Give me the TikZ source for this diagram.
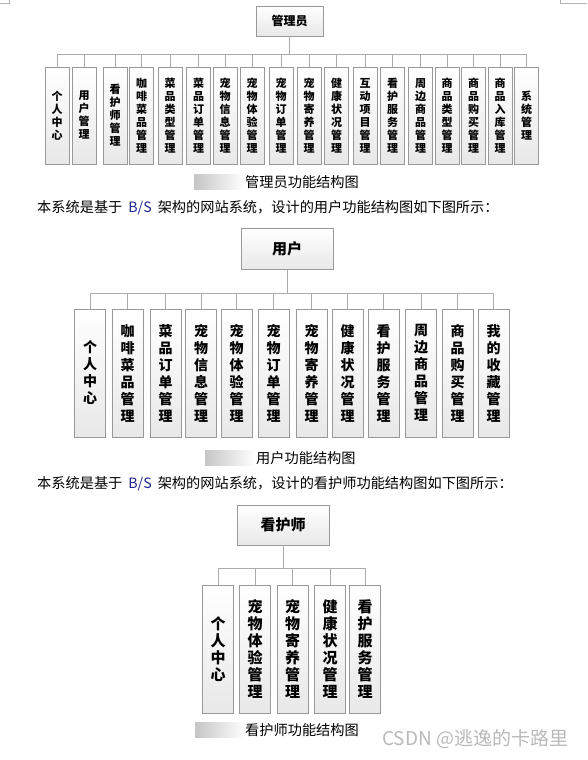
\documentclass[tikz,border=0pt]{standalone}
\usepackage{fontspec}
\setmainfont{Noto Sans CJK SC}
\usetikzlibrary{shadows, positioning}
\definecolor{bsblue}{RGB}{30,40,140}

\begin{document}
\begin{tikzpicture}[
    x=1pt, y=-1pt,
    func/.style={draw=gray!80, line width=0.8pt, top color=white, bottom color=gray!18, inner sep=0pt, align=center,
        drop shadow={shadow xshift=0.8pt, shadow yshift=-0.8pt, fill=gray!45, opacity=1}},
    head/.style={func, font=\fontsize{15}{17}\selectfont\bfseries},
    admbox/.style={func, minimum width=24pt, minimum height=97pt, font=\fontsize{11}{13}\selectfont\bfseries},
    usrbox/.style={func, minimum width=31pt, minimum height=128pt, font=\fontsize{14}{17}\selectfont\bfseries},
    nrsbox/.style={func, minimum width=31pt, minimum height=128pt, font=\fontsize{15}{17}\selectfont\bfseries},
    link/.style={draw=gray!65, line width=0.9pt},
    txt/.style={anchor=west, inner sep=0pt, font=\fontsize{14.2}{16}\selectfont},
    blur/.style={left color=gray!45, right color=white, inner sep=0pt, minimum height=15pt}
]
    \useasboundingbox (0,0) rectangle (587,760);

    % Page corner marks
    \draw[gray!60, line width=0.6pt] (0,3) -- (9,3) -- (9,0);
    \draw[gray!60, line width=0.6pt] (560,0) -- (560,3) -- (587,3);

    % Admin chart
    \node (adm) [head, minimum width=67pt, minimum height=30pt, font=\fontsize{12}{14}\selectfont\bfseries] at (289.5,21) {管理员};
    \coordinate (abar) at (289.5,54);
    \node (a1)  [admbox] at (57,115.5)    {个\\人\\中\\心};
    \node (a2)  [admbox] at (84,115.5)    {用\\户\\管\\理};
    \node (a3)  [admbox] at (115,115.5)   {看\\护\\师\\管\\理};
    \node (a4)  [admbox] at (141.5,115.5) {咖\\啡\\菜\\品\\管\\理};
    \node (a5)  [admbox] at (170,115.5)   {菜\\品\\类\\型\\管\\理};
    \node (a6)  [admbox] at (198.5,115.5) {菜\\品\\订\\单\\管\\理};
    \node (a7)  [admbox] at (225,115.5)   {宠\\物\\信\\息\\管\\理};
    \node (a8)  [admbox] at (252,115.5)   {宠\\物\\体\\验\\管\\理};
    \node (a9)  [admbox] at (281,115.5)   {宠\\物\\订\\单\\管\\理};
    \node (a10) [admbox] at (309,115.5)   {宠\\物\\寄\\养\\管\\理};
    \node (a11) [admbox] at (336.5,115.5) {健\\康\\状\\况\\管\\理};
    \node (a12) [admbox] at (365,115.5)   {互\\动\\项\\目\\管\\理};
    \node (a13) [admbox] at (392.5,115.5) {看\\护\\服\\务\\管\\理};
    \node (a14) [admbox] at (420.5,115.5) {周\\边\\商\\品\\管\\理};
    \node (a15) [admbox] at (447,115.5)   {商\\品\\类\\型\\管\\理};
    \node (a16) [admbox] at (473.5,115.5) {商\\品\\购\\买\\管\\理};
    \node (a17) [admbox] at (500,115.5)   {商\\品\\入\\库\\管\\理};
    \node (a18) [admbox] at (526.5,115.5) {系\\统\\管\\理};

    \draw [link] (adm) -- (abar);
    \draw [link] (abar) -| (a1);
    \draw [link] (abar) -| (a2);
    \draw [link] (abar) -| (a3);
    \draw [link] (abar) -| (a4);
    \draw [link] (abar) -| (a5);
    \draw [link] (abar) -| (a6);
    \draw [link] (abar) -| (a7);
    \draw [link] (abar) -| (a8);
    \draw [link] (abar) -| (a9);
    \draw [link] (abar) -| (a10);
    \draw [link] (abar) -| (a11);
    \draw [link] (abar) -| (a12);
    \draw [link] (abar) -| (a13);
    \draw [link] (abar) -| (a14);
    \draw [link] (abar) -| (a15);
    \draw [link] (abar) -| (a16);
    \draw [link] (abar) -| (a17);
    \draw [link] (abar) -| (a18);

    \node (blur1) [blur, minimum width=50pt] at (219,182) {};
    \node (cap1) [txt] at (245,182) {管理员功能结构图};
    \node (intro1) [txt] at (37,208) {本系统是基于\hspace{6pt}{\color{bsblue}B/S}\hspace{6pt}架构的网站系统，设计的用户功能结构图如下图所示：};

    % User chart
    \node (usr) [head, minimum width=92pt, minimum height=41pt] at (287,249) {用户};
    \coordinate (ubar) at (287,293);
    \node (u1)  [usrbox] at (90,373)    {个\\人\\中\\心};
    \node (u2)  [usrbox] at (127.5,373) {咖\\啡\\菜\\品\\管\\理};
    \node (u3)  [usrbox] at (165.5,373) {菜\\品\\订\\单\\管\\理};
    \node (u4)  [usrbox] at (201,373)   {宠\\物\\信\\息\\管\\理};
    \node (u5)  [usrbox] at (236.5,373) {宠\\物\\体\\验\\管\\理};
    \node (u6)  [usrbox] at (273.5,373) {宠\\物\\订\\单\\管\\理};
    \node (u7)  [usrbox] at (311.5,373) {宠\\物\\寄\\养\\管\\理};
    \node (u8)  [usrbox] at (347.5,373) {健\\康\\状\\况\\管\\理};
    \node (u9)  [usrbox] at (383.5,373) {看\\护\\服\\务\\管\\理};
    \node (u10) [usrbox] at (421,373)   {周\\边\\商\\品\\管\\理};
    \node (u11) [usrbox] at (457.5,373) {商\\品\\购\\买\\管\\理};
    \node (u12) [usrbox] at (493.5,373) {我\\的\\收\\藏\\管\\理};

    \draw [link] (usr) -- (ubar);
    \draw [link] (ubar) -| (u1);
    \draw [link] (ubar) -| (u2);
    \draw [link] (ubar) -| (u3);
    \draw [link] (ubar) -| (u4);
    \draw [link] (ubar) -| (u5);
    \draw [link] (ubar) -| (u6);
    \draw [link] (ubar) -| (u7);
    \draw [link] (ubar) -| (u8);
    \draw [link] (ubar) -| (u9);
    \draw [link] (ubar) -| (u10);
    \draw [link] (ubar) -| (u11);
    \draw [link] (ubar) -| (u12);

    \node (blur2) [blur, minimum width=50pt] at (230,458) {};
    \node (cap2) [txt] at (256,458) {用户功能结构图};
    \node (intro2) [txt] at (37,484) {本系统是基于\hspace{6pt}{\color{bsblue}B/S}\hspace{6pt}架构的网站系统，设计的看护师功能结构图如下图所示：};

    % Nurse chart
    \node (nrs) [head, minimum width=92pt, minimum height=40pt] at (283,525) {看护师};
    \coordinate (nbar) at (283,568);
    \node (n1) [nrsbox] at (218,649)   {个\\人\\中\\心};
    \node (n2) [nrsbox] at (255,649)   {宠\\物\\体\\验\\管\\理};
    \node (n3) [nrsbox] at (292.5,649) {宠\\物\\寄\\养\\管\\理};
    \node (n4) [nrsbox] at (330,649)   {健\\康\\状\\况\\管\\理};
    \node (n5) [nrsbox] at (365,649)   {看\\护\\服\\务\\管\\理};

    \draw [link] (nrs) -- (nbar);
    \draw [link] (nbar) -| (n1);
    \draw [link] (nbar) -| (n2);
    \draw [link] (nbar) -| (n3);
    \draw [link] (nbar) -| (n4);
    \draw [link] (nbar) -| (n5);

    \node (blur3) [blur, minimum width=50pt] at (220,730) {};
    \node (cap3) [txt] at (245,730) {看护师功能结构图};
    \node (mark) [anchor=west, inner sep=0pt, text=gray!55, font=\fontsize{19}{21}\selectfont] at (382,739) {CSDN @逃逸的卡路里};
\end{tikzpicture}
\end{document}
